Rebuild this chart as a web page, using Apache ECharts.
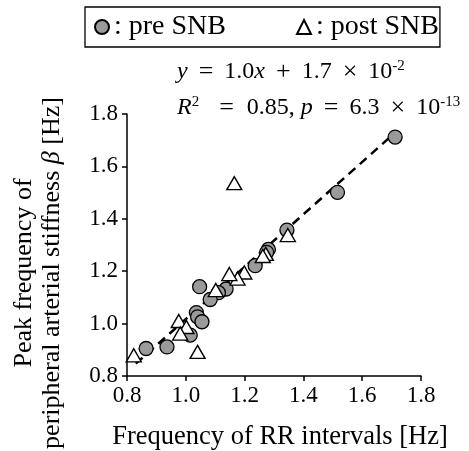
<!DOCTYPE html>
<html>
<head>
<meta charset="utf-8">
<script src="https://cdn.jsdelivr.net/npm/echarts@6/dist/echarts.min.js"></script>
<style>html,body{margin:0;padding:0;background:#fff;}#c{width:469px;height:451px;}</style>
</head>
<body>
<div id="c"></div>
<script>
// pre SNB (x: RR interval freq, y: peak freq of beta)
const preX = [1.712, 1.516, 1.344, 1.281, 1.275, 1.236, 1.137, 1.111, 1.083, 1.047, 1.036, 1.040, 1.055, 1.015, 0.936, 0.865];
const preY = [1.712, 1.501, 1.357, 1.283, 1.272, 1.221, 1.132, 1.118, 1.092, 1.141, 1.042, 1.026, 1.007, 0.956, 0.911, 0.905];
// post SNB
const postX = [1.165, 1.347, 1.272, 1.262, 1.199, 1.176, 1.148, 1.102, 0.976, 1.002, 0.981, 1.040, 0.823];
const postY = [1.536, 1.338, 1.266, 1.258, 1.195, 1.172, 1.189, 1.128, 1.010, 0.987, 0.962, 0.892, 0.879];
// regression line
const fitSlope = 1.0, fitIntercept = 0.017;
const fitRange = [0.83, 1.71];
const xTicks = [0.8, 1.0, 1.2, 1.4, 1.6, 1.8];
const yTicks = [0.8, 1.0, 1.2, 1.4, 1.6, 1.8];

const serif = '"Liberation Serif", "Times New Roman", serif';
const pre = preX.map((x, i) => [x, preY[i]]);
const post = postX.map((x, i) => [x, postY[i]]);
const fit = fitRange.map(x => [x, fitSlope * x + fitIntercept]);

const eqRich = {
  n: {fontFamily: serif, fontSize: 24, lineHeight: 26},
  i: {fontFamily: serif, fontSize: 24, fontStyle: 'italic', lineHeight: 26},
  op: {fontFamily: serif, fontSize: 26, lineHeight: 26, padding: [0, 11, 0, 11]},
  eqA: {fontFamily: serif, fontSize: 26, lineHeight: 26, padding: [0, 13, 0, 20]},
  s: {fontFamily: serif, fontSize: 15, verticalAlign: 'top', lineHeight: 26, padding: [0, 0, 6, 0]}
};

const chart = echarts.init(document.getElementById('c'), null, {renderer: 'canvas'});
chart.setOption({
  animation: false,
  backgroundColor: '#fff',
  textStyle: {fontFamily: serif, color: '#000'},
  grid: {left: 127, right: 48, top: 114, bottom: 75, outerBoundsMode: 'none', containLabel: false},
  legend: {
    left: 85, top: 7,
    padding: [6, 1, 6, 9],
    borderColor: '#000', borderWidth: 1.3,
    itemWidth: 14, itemHeight: 14, itemGap: 70,
    data: ['pre SNB', 'post SNB'],
    formatter: n => ': ' + n,
    textStyle: {fontFamily: serif, fontSize: 28, color: '#000'}
  },
  xAxis: {
    type: 'value', min: 0.8, max: 1.8, interval: 0.2,
    name: 'Frequency of RR intervals [Hz]',
    nameLocation: 'middle', nameGap: 48,
    nameTextStyle: {fontFamily: serif, fontSize: 26.5, color: '#000', padding: [0, 0, 0, 12]},
    axisLine: {lineStyle: {color: '#000', width: 1.5}},
    axisTick: {show: true, inside: false, length: 5, lineStyle: {color: '#000', width: 1.5}},
    splitLine: {show: false},
    axisLabel: {fontFamily: serif, fontSize: 23, color: '#000', margin: 8,
      formatter: v => xTicks.includes(+v.toFixed(1)) ? v.toFixed(1) : ''}
  },
  yAxis: {
    type: 'value', min: 0.8, max: 1.8, interval: 0.2,
    name: '{t|Peak frequency of}\n{t|peripheral arterial stiffness }{b|β}{t| [Hz]}',
    nameLocation: 'middle', nameGap: 61, nameRotate: 90,
    nameTextStyle: {
      fontFamily: serif, fontSize: 26, color: '#000', lineHeight: 28, padding: [0, 56, 0, 0],
      rich: {
        t: {fontFamily: serif, fontSize: 26, color: '#000', lineHeight: 28},
        b: {fontFamily: serif, fontSize: 26, color: '#000', lineHeight: 28, fontStyle: 'italic'}
      }
    },
    axisLine: {show: true, lineStyle: {color: '#000', width: 1.5}},
    axisTick: {show: true, inside: false, length: 5, lineStyle: {color: '#000', width: 1.5}},
    splitLine: {show: false},
    axisLabel: {fontFamily: serif, fontSize: 23, color: '#000', margin: 9,
      formatter: v => yTicks.includes(+v.toFixed(1)) ? v.toFixed(1) : ''}
  },
  series: [
    {
      name: 'fit', type: 'line', data: fit, symbol: 'none', silent: true,
      lineStyle: {color: '#000', width: 2.5, type: [9, 6]}, z: 1
    },
    {
      name: 'post SNB', type: 'scatter', data: post, symbol: 'triangle', symbolSize: [15, 13],
      itemStyle: {color: '#fff', borderColor: '#000', borderWidth: 1.4, opacity: 1}, z: 3
    },
    {
      name: 'pre SNB', type: 'scatter', data: pre, symbol: 'circle', symbolSize: 14,
      itemStyle: {color: '#9a9a9a', borderColor: '#000', borderWidth: 1.3, opacity: 1}, z: 2
    }
  ],
  graphic: [
    {
      type: 'text', left: 177, top: 59,
      style: {
        text: '{i|y}{op|=}{n|1.0}{i|x}{op|+}{n|1.7}{op|×}{n|10}{s|-2}',
        fill: '#000', rich: eqRich
      }
    },
    {
      type: 'text', left: 177, top: 95,
      style: {
        text: '{i|R}{s|2}{eqA|=}{n|0.85, }{i|p}{op|=}{n|6.3}{op|×}{n|10}{s|-13}',
        fill: '#000', rich: eqRich
      }
    }
  ]
});
</script>
</body>
</html>
